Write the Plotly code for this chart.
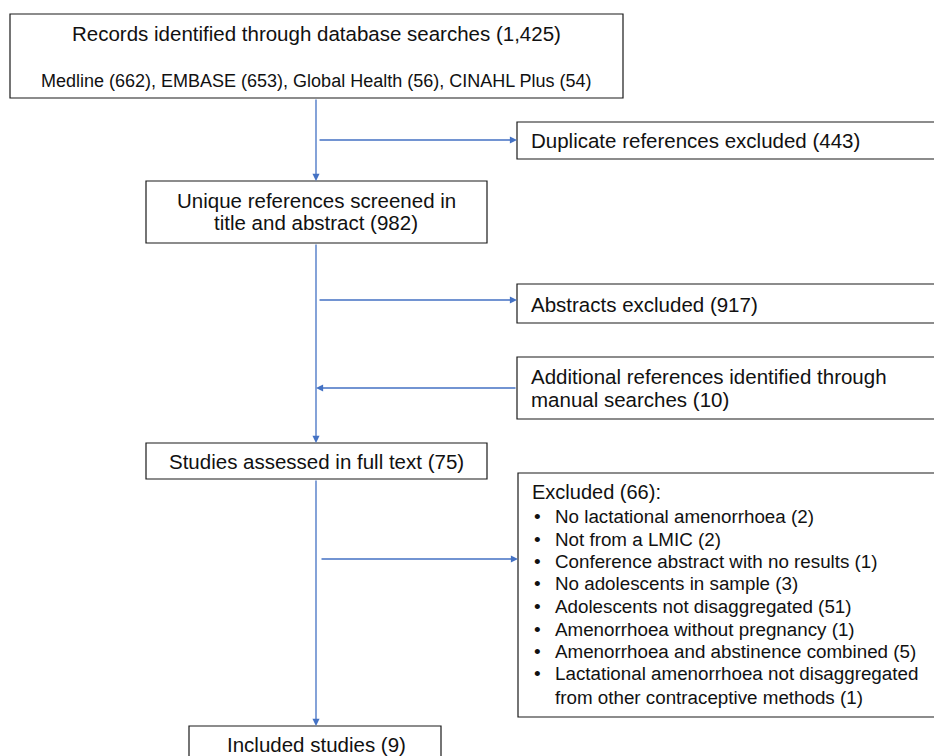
import plotly.graph_objects as go

# ---- data (flow-diagram content) ----
records_total = "1,425"
databases = ["Medline", "EMBASE", "Global Health", "CINAHL Plus"]
database_counts = [662, 653, 56, 54]
duplicates_excluded = 443
screened = 982
abstracts_excluded = 917
manual_added = 10
full_text = 75
excluded_total = 66
exclusion_reasons = [
    "No lactational amenorrhoea",
    "Not from a LMIC",
    "Conference abstract with no results",
    "No adolescents in sample",
    "Adolescents not disaggregated",
    "Amenorrhoea without pregnancy",
    "Amenorrhoea and abstinence combined",
    "Lactational amenorrhoea not disaggregated|from other contraceptive methods",
]
exclusion_counts = [2, 2, 1, 3, 51, 1, 5, 1]
included = 9

# ---- layout geometry (pixels of the page) ----
FONT = "Liberation Sans, Arial, sans-serif"
BLUE = "#4472C4"
BORDER = "#1a1a1a"
XC = 316
MAIN = 20.5

fig = go.Figure()
fig.add_trace(go.Scatter(x=[10, 900], y=[10, 740], mode="markers",
                         marker=dict(opacity=0), hoverinfo="skip", showlegend=False))

def box(x0, y0, x1, y1):
    fig.add_shape(type="rect", x0=x0, y0=y0, x1=x1, y1=y1,
                  line=dict(color=BORDER, width=1.2), fillcolor="white", layer="below")

def text(x, y, s, size=MAIN, anchor="left"):
    fig.add_annotation(x=x, y=y, text=s, showarrow=False, xanchor=anchor, yanchor="middle",
                       align=anchor, font=dict(family=FONT, size=size, color="#111"))

def arrow(x0, y0, x1, y1):
    fig.add_annotation(x=x1, y=y1, ax=x0, ay=y0, xref="x", yref="y", axref="x", ayref="y",
                       text="", showarrow=True, arrowhead=2, arrowsize=1.1, arrowwidth=1.3,
                       arrowcolor=BLUE, standoff=0)

# boxes
box(10, 14, 623, 98)
box(517, 122, 945, 159)
box(146, 181, 487, 243)
box(517, 284, 945, 323)
box(517, 357, 945, 419)
box(146, 443, 487, 479)
box(518, 473, 945, 717)
box(189, 726, 441, 780)

# texts
text(XC, 33, f"Records identified through database searches ({records_total})", MAIN, "center")
text(XC, 81, ", ".join(f"{d} ({c})" for d, c in zip(databases, database_counts)), 18, "center")
text(529, 140, f"Duplicate references excluded ({duplicates_excluded})")
text(XC, 200, "Unique references screened in", MAIN, "center")
text(XC, 222, f"title and abstract ({screened})", MAIN, "center")
text(529, 304, f"Abstracts excluded ({abstracts_excluded})")
text(529, 376, "Additional references identified through")
text(529, 399, f"manual searches ({manual_added})")
text(XC, 461, f"Studies assessed in full text ({full_text})", MAIN, "center")
text(530, 492, f"Excluded ({excluded_total}):", 20)
ys = [516, 539, 561, 583, 606, 629, 651, 673]
for y, r, c in zip(ys, exclusion_reasons, exclusion_counts):
    text(532, y, "•", 19)
    parts = r.split("|")
    for k, p in enumerate(parts):
        s = p + (f" ({c})" if k == len(parts) - 1 else "")
        text(553, y + 24 * k, s, 18.8)
text(XC, 744, f"Included studies ({included})", MAIN, "center")

# connectors
arrow(XC, 98, XC, 181)
arrow(XC, 243, XC, 443)
arrow(XC, 479, XC, 726)
arrow(318, 140, 517, 140)
arrow(318, 300, 517, 300)
arrow(517, 388, XC, 388)
arrow(320, 559, 518, 559)

fig.update_layout(
    width=934, height=756, margin=dict(l=0, r=0, t=0, b=0),
    paper_bgcolor="white", plot_bgcolor="white", showlegend=False,
    xaxis=dict(range=[0, 934], visible=False, fixedrange=True),
    yaxis=dict(range=[756, 0], visible=False, fixedrange=True),
)
fig.write_html(
    "out.html",
    config={"displayModeBar": False, "staticPlot": True},
    post_script="document.body.style.margin='0';document.body.style.overflow='hidden';",
)
